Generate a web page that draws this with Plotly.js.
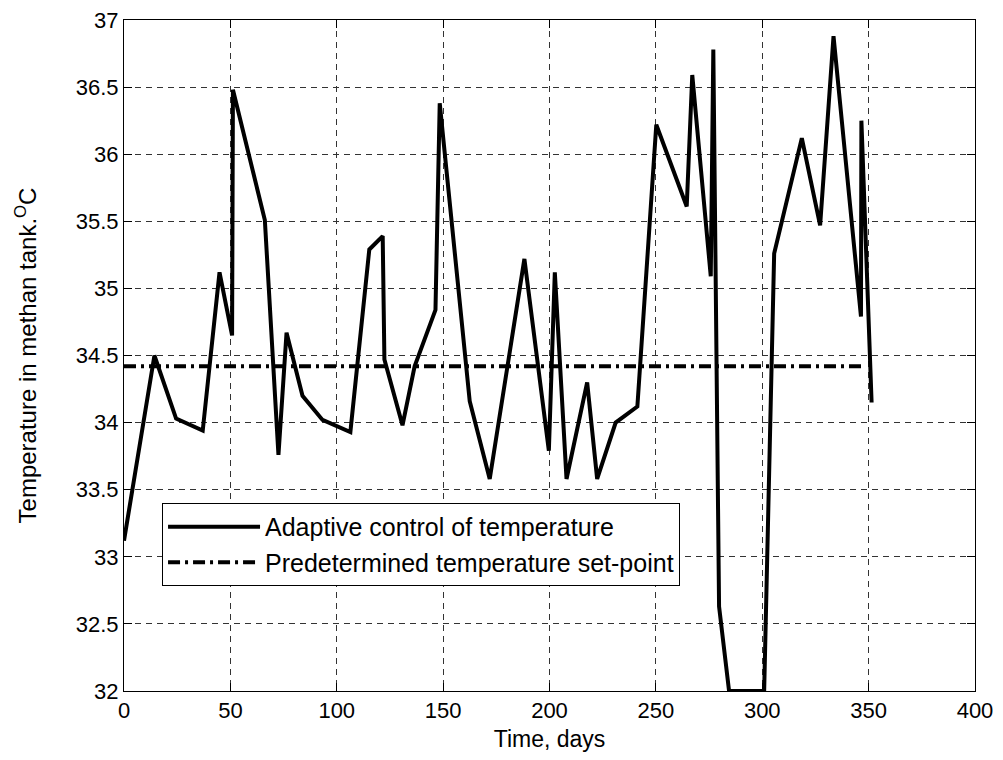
<!DOCTYPE html>
<html>
<head>
<meta charset="utf-8">
<script src="https://cdn.plot.ly/plotly-3.0.1.min.js"></script>
<style>html,body{margin:0;padding:0;background:#fff;}#chart{width:1003px;height:760px;}</style>
</head>
<body>
<div id="chart"></div>
<script>
// Adaptive control of temperature (days, °C)
const days = [0, 14.3, 24.5, 37, 44.9, 50.8, 51.2, 66.2, 72.6, 76.4, 83.9, 93.3, 106.4, 115.3, 121.6, 122.4, 130.9, 136.6, 146.4, 148.4, 162.5, 171.9, 188.2, 199.7, 202.5, 208, 217.7, 222.4, 231.1, 241.3, 250.2, 264.5, 267.1, 275.8, 277, 279.7, 284.4, 300.9, 305.6, 318.6, 327.2, 333.5, 346.4, 346.6, 351.4];
const temps = [33.12, 34.50, 34.03, 33.94, 35.12, 34.65, 36.48, 35.51, 33.76, 34.67, 34.20, 34.02, 33.93, 35.29, 35.39, 34.47, 33.98, 34.42, 34.84, 36.38, 34.16, 33.58, 35.22, 33.79, 35.12, 33.58, 34.30, 33.58, 34.00, 34.12, 36.22, 35.61, 36.59, 35.09, 36.78, 32.63, 32.0, 32.0, 35.26, 36.12, 35.47, 36.88, 34.79, 36.25, 34.15];
// Predetermined set-point
const setpointDays = [0, 348];
const setpointTemp = [34.42, 34.42];
const seriesNames = ['Adaptive control of temperature', 'Predetermined temperature set-point'];
const xTitle = 'Time, days';
const yTitle = 'Temperature in methan tank.<sup>O</sup>C';

const font = 'Liberation Sans, Arial, Helvetica, sans-serif';

const traces = [
  {x: days, y: temps, type: 'scatter', mode: 'lines', name: seriesNames[0],
   line: {color: '#000', width: 4}},
  {x: setpointDays, y: setpointTemp, type: 'scatter', mode: 'lines', name: seriesNames[1],
   line: {color: '#000', width: 4, dash: '12px,5px,3px,5px'}}
];

const axisCommon = {
  showline: true, linecolor: '#000', linewidth: 1, mirror: 'ticks',
  ticks: 'inside', ticklen: 8, tickcolor: '#000', tickwidth: 1,
  showgrid: true, gridcolor: '#333', gridwidth: 1, griddash: '6px,5px',
  zeroline: false, tickfont: {family: font, size: 22, color: '#000'}
};

const layout = {
  width: 1003, height: 760,
  margin: {l: 124, r: 28, t: 20, b: 69},
  paper_bgcolor: '#fff', plot_bgcolor: '#fff',
  font: {family: font, color: '#000'},
  showlegend: true,
  xaxis: Object.assign({}, axisCommon, {
    range: [0, 400], dtick: 50, tick0: 0, automargin: false,
    title: {text: xTitle, font: {family: font, size: 23, color: '#000'}, standoff: 8}
  }),
  yaxis: Object.assign({}, axisCommon, {
    range: [32, 37], dtick: 0.5, tick0: 32, automargin: false,
    title: {text: yTitle, font: {family: font, size: 24, color: '#000'}, standoff: 32}
  }),
  legend: {
    x: 0.0447, y: 0.2802, xanchor: 'left', yanchor: 'top',
    bgcolor: '#fff', bordercolor: '#000', borderwidth: 1,
    font: {family: font, size: 25, color: '#000'},
    itemwidth: 92, tracegroupgap: 0
  }
};

Plotly.newPlot('chart', traces, layout, {staticPlot: true, displayModeBar: false});
</script>
</body>
</html>
